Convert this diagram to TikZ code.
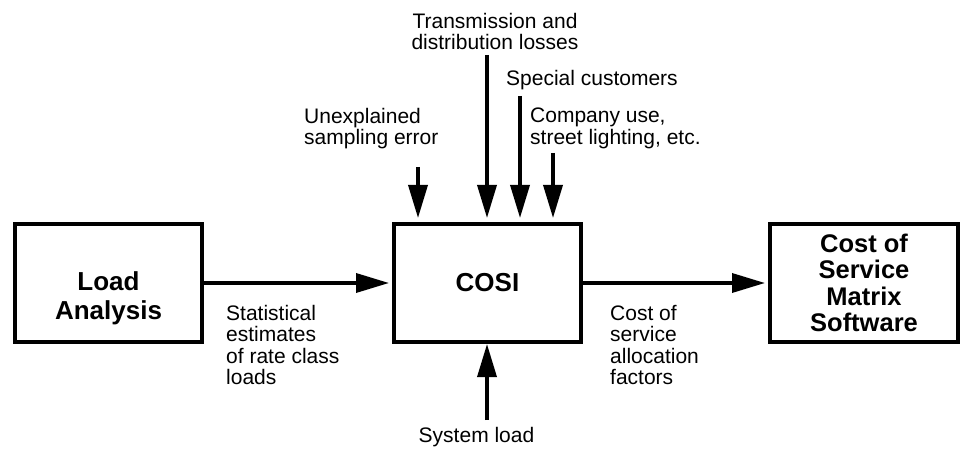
\documentclass[tikz,border=0pt]{standalone}
\usepackage{fontspec}
\setmainfont{Liberation Sans}
\usetikzlibrary{arrows.meta}
\begin{document}
\begin{tikzpicture}[x=1pt,y=-1pt,
  box/.style={draw,line width=4pt,minimum width=187pt,minimum height=118pt,inner sep=0pt,align=center,font=\fontsize{26}{29}\selectfont\bfseries},
  lbl/.style={inner sep=0pt,font=\fontsize{21}{21.5}\selectfont,align=left},
  arr/.style={line width=3.5pt,-{Triangle[length=33pt,width=19pt]}}]
\useasboundingbox (0,0) rectangle (963,449);

\node[box] (load) at (108.5,283) {\rule{0pt}{50pt}Load\\Analysis};
\node[box] (cosi) at (487.5,283) {COSI};
\node[box,minimum width=188pt,font=\fontsize{25.5}{26.5}\selectfont\bfseries] (cost) at (864,283) {Cost of\\Service\\Matrix\\Software};

\node[lbl,align=center,anchor=north] (trans) at (495,13) {Transmission and\\distribution losses};
\node[lbl,anchor=north west] (spec) at (506,70) {Special customers};
\node[lbl,anchor=north west] (comp) at (530,108) {Company use,\\street lighting, etc.};
\node[lbl,anchor=north west] (unex) at (304,108) {Unexplained\\sampling error};
\node[lbl,anchor=north west] (stat) at (226,305) {Statistical\\estimates\\of rate class\\loads};
\node[lbl,anchor=north west] (csaf) at (610,305) {Cost of\\service\\allocation\\factors};
\node[lbl,align=center,anchor=north] (sys) at (476.5,427) {System load};

\coordinate (u) at (418,167);
\coordinate (t) at (487,55);
\coordinate (s) at (520,96);
\coordinate (c) at (553,153);
\coordinate (l) at (487,420);

\draw[arr,shorten >=4pt] (u) -- (u |- cosi.north);
\draw[arr,shorten >=4pt] (t) -- (t |- cosi.north);
\draw[arr,shorten >=4pt] (s) -- (s |- cosi.north);
\draw[arr,shorten >=4pt] (c) -- (c |- cosi.north);
\draw[arr] (l) -- (l |- cosi.south);
\draw[arr,shorten >=3pt] (load.east) -- (cosi.west);
\draw[arr,shorten >=3pt] (cosi.east) -- (cost.west);
\end{tikzpicture}
\end{document}
